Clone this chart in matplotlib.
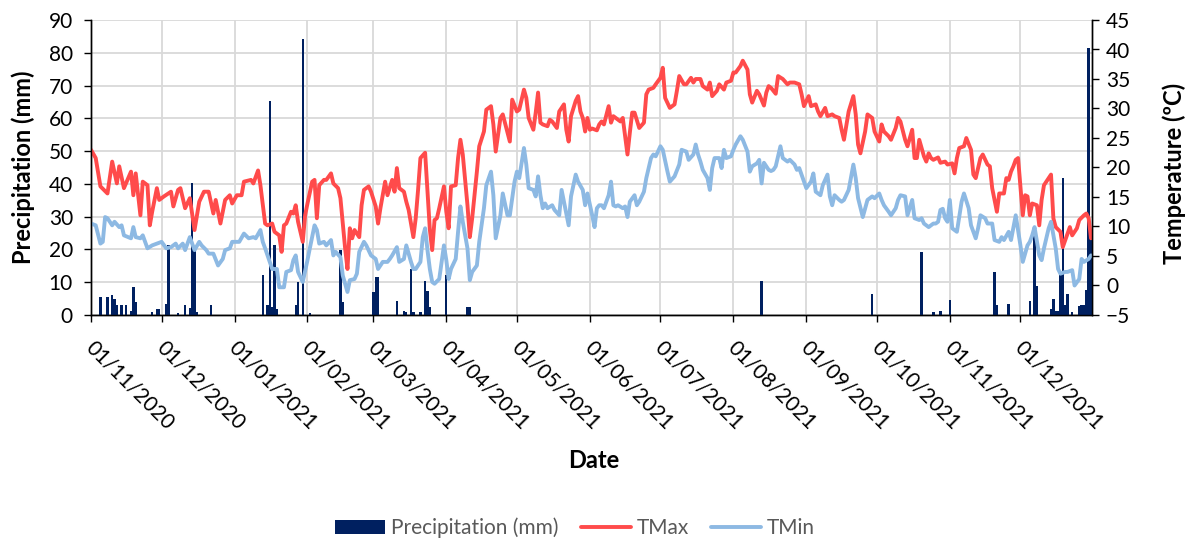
import matplotlib
matplotlib.use("Agg")
import matplotlib.pyplot as plt
import matplotlib.dates as mdates
import matplotlib.transforms as mtransforms
import numpy as np
import pandas as pd

plt.rcParams['font.family'] = ['Lato', 'DejaVu Sans']

start = pd.Timestamp('2020-11-01')

# daily max temperature (day offset from 01/11/2020, degC)
tmax_day = [0, 2, 4, 7, 9, 11, 12, 14, 17, 18, 19, 21, 22, 24, 25, 26, 28, 29, 31, 34,
            35, 37, 38, 40, 42, 44, 46, 48, 50, 52, 53, 55, 57, 59, 60, 62, 64, 65, 68, 69,
            71, 72, 74, 75, 77, 78, 80, 81, 82, 83, 85, 86, 87, 88, 90, 91, 92, 94, 95, 96,
            97, 99, 100, 102, 103, 105, 106, 108, 109, 110, 111, 112, 114, 115, 116, 118, 119, 121, 122, 123,
            125, 126, 128, 129, 130, 131, 133, 134, 135, 137, 138, 139, 140, 142, 143, 144, 145, 146, 147, 148,
            150, 151, 152, 153, 155, 156, 157, 158, 160, 161, 162, 164, 165, 167, 168, 170, 171, 172, 174, 175,
            177, 178, 179, 181, 182, 184, 185, 186, 188, 189, 190, 191, 192, 194, 195, 196, 198, 199, 201, 202,
            203, 204, 206, 207, 208, 209, 210, 211, 212, 213, 215, 216, 217, 218, 220, 221, 222, 223, 225, 226,
            228, 229, 230, 231, 233, 235, 236, 237, 239, 240, 242, 243, 244, 246, 247, 248, 249, 250, 252, 253,
            255, 256, 257, 259, 260, 262, 263, 264, 266, 267, 269, 270, 272, 273, 274, 276, 277, 279, 280, 281,
            283, 284, 286, 287, 288, 289, 291, 292, 294, 296, 297, 299, 301, 302, 303, 305, 306, 308, 309, 310,
            312, 313, 315, 316, 318, 319, 320, 322, 324, 325, 326, 327, 329, 330, 332, 333, 335, 336, 337, 339,
            340, 342, 343, 344, 346, 347, 349, 350, 351, 352, 354, 355, 356, 357, 358, 360, 361, 363, 364, 366,
            367, 368, 369, 371, 372, 374, 375, 376, 378, 379, 381, 382, 383, 385, 386, 388, 389, 390, 391, 392,
            393, 394, 396, 397, 398, 399, 400, 402, 403, 404, 405, 408, 409, 410, 412, 413, 415, 416, 417, 419,
            420, 422, 423, 424, 425]
tmax_val = [23.0, 21.6, 16.8, 15.6, 21.0, 17.3, 20.2, 16.5, 19.3, 15.3, 19.0, 11.9, 17.6, 17.0, 10.2, 12.5, 16.5, 14.5, 15.1, 15.9,
            13.4, 16.2, 16.5, 13.1, 14.8, 9.4, 14.2, 15.9, 15.9, 12.2, 14.5, 10.5, 14.5, 15.3, 13.9, 15.3, 15.3, 17.6, 17.9, 17.3,
            19.5, 17.0, 10.5, 10.2, 10.5, 9.1, 8.5, 5.7, 10.2, 10.5, 12.5, 12.2, 13.6, 10.8, 7.4, 11.9, 13.9, 17.6, 17.9, 11.4,
            17.0, 17.9, 17.9, 19.0, 17.3, 16.5, 14.8, 6.3, 2.8, 9.7, 8.0, 9.4, 8.2, 13.6, 16.2, 16.8, 15.9, 13.4, 10.5, 13.1,
            17.6, 15.3, 17.9, 15.9, 19.9, 16.5, 15.9, 14.2, 12.8, 8.2, 11.4, 16.2, 21.6, 22.5, 16.0, 9.5, 6.0, 11.1, 11.4, 13.1,
            16.8, 12.5, 9.7, 16.8, 17.0, 21.6, 24.7, 22.2, 13.6, 8.2, 11.4, 19.3, 23.6, 26.1, 29.8, 30.4, 27.3, 22.7, 28.4, 29.0,
            25.9, 24.4, 31.5, 29.5, 29.8, 33.2, 31.8, 28.4, 26.4, 29.3, 32.7, 27.6, 27.3, 27.0, 28.1, 27.8, 26.7, 29.5, 30.7, 26.4,
            24.4, 28.7, 31.3, 32.1, 29.5, 28.4, 26.1, 28.4, 26.4, 26.6, 26.3, 27.3, 27.8, 27.3, 30.4, 27.6, 28.7, 28.4, 27.8, 28.4,
            22.2, 25.9, 29.3, 29.3, 26.7, 27.6, 32.4, 33.2, 33.5, 34.1, 35.2, 36.9, 31.8, 30.1, 30.4, 30.7, 33.0, 35.5, 34.1, 34.1,
            35.2, 34.4, 35.0, 35.0, 33.8, 33.2, 34.4, 32.1, 33.0, 34.1, 33.2, 34.4, 34.7, 36.1, 36.1, 37.2, 38.1, 36.6, 32.4, 31.0,
            33.0, 32.4, 30.5, 32.7, 33.8, 33.5, 32.5, 35.5, 35.0, 34.1, 34.4, 34.4, 34.1, 32.4, 30.4, 32.1, 30.4, 30.7, 29.5, 28.7,
            30.1, 28.7, 29.0, 28.7, 28.4, 26.4, 24.7, 29.5, 32.1, 29.0, 23.9, 22.4, 26.1, 29.0, 28.4, 26.1, 24.4, 27.3, 26.1, 25.3,
            24.7, 26.7, 28.4, 27.8, 24.7, 23.6, 26.4, 21.6, 21.6, 24.7, 21.9, 21.0, 22.4, 21.6, 21.3, 21.7, 20.8, 21.0, 20.5, 20.7,
            19.0, 21.6, 23.3, 23.6, 25.0, 23.0, 18.8, 18.2, 21.6, 22.2, 20.5, 20.2, 16.5, 12.5, 15.6, 15.6, 18.2, 17.9, 19.3, 20.2,
            21.3, 21.6, 11.9, 15.3, 15.1, 11.9, 13.9, 13.6, 10.2, 14.5, 17.0, 18.8, 11.4, 9.9, 9.1, 6.5, 8.8, 9.9, 8.5, 9.7,
            11.1, 11.9, 12.2, 11.4, 8.0]

# daily min temperature
tmin_day = [0, 2, 4, 5, 6, 7, 9, 10, 12, 13, 14, 17, 18, 19, 21, 22, 24, 26, 28, 30,
            32, 34, 36, 37, 39, 40, 42, 44, 46, 47, 49, 50, 52, 54, 56, 57, 59, 60, 63, 65,
            67, 69, 70, 72, 73, 74, 76, 77, 79, 80, 82, 83, 85, 86, 87, 88, 90, 92, 93, 95,
            96, 97, 99, 100, 102, 103, 104, 106, 107, 109, 110, 112, 113, 114, 116, 117, 119, 121, 122, 124,
            126, 127, 128, 130, 131, 133, 134, 136, 137, 138, 140, 141, 142, 143, 144, 145, 146, 148, 149, 150,
            151, 152, 153, 155, 156, 157, 158, 160, 161, 162, 164, 165, 167, 168, 170, 171, 172, 174, 175, 177,
            178, 180, 181, 182, 184, 185, 186, 188, 189, 190, 191, 192, 193, 194, 196, 197, 199, 200, 201, 203,
            204, 206, 207, 209, 210, 211, 213, 214, 215, 216, 217, 218, 220, 221, 222, 223, 224, 226, 227, 228,
            229, 231, 232, 233, 235, 236, 238, 239, 240, 242, 243, 245, 246, 248, 250, 251, 253, 254, 256, 257,
            258, 259, 260, 262, 263, 264, 265, 267, 268, 269, 270, 272, 273, 274, 276, 277, 279, 280, 281, 283,
            284, 285, 286, 288, 289, 290, 291, 293, 294, 296, 297, 299, 300, 301, 303, 304, 306, 307, 308, 310,
            311, 313, 314, 315, 316, 318, 319, 320, 322, 324, 325, 326, 328, 330, 332, 333, 335, 336, 337, 339,
            340, 342, 343, 344, 346, 347, 349, 350, 352, 353, 354, 356, 358, 359, 360, 361, 362, 363, 364, 365,
            366, 368, 369, 370, 371, 373, 374, 376, 377, 378, 380, 381, 383, 384, 386, 387, 388, 390, 391, 393,
            395, 396, 398, 399, 400, 401, 403, 404, 405, 407, 408, 410, 411, 412, 414, 415, 417, 418, 420, 421,
            422, 424, 425]
tmin_val = [10.5, 10.2, 7.1, 7.4, 11.6, 11.4, 10.2, 10.8, 9.9, 10.2, 8.5, 8.0, 9.9, 8.2, 8.0, 8.5, 6.3, 6.8, 7.1, 7.4,
            6.3, 6.5, 7.1, 6.3, 7.1, 6.0, 8.2, 6.0, 7.4, 6.8, 6.0, 5.4, 5.4, 3.4, 4.5, 6.0, 6.3, 7.4, 7.4, 8.8,
            8.0, 8.2, 8.0, 9.4, 7.4, 6.3, 4.0, 2.8, 2.8, -0.3, -0.3, 2.3, 2.6, 4.3, 5.1, 2.3, 0.6, 4.3, 6.3, 10.2,
            9.4, 7.1, 7.4, 6.8, 7.7, 5.1, 5.7, 4.8, 1.7, -1.1, 0.9, 1.1, 2.0, 5.7, 7.4, 6.8, 5.1, 4.5, 2.8, 4.0,
            4.0, 4.5, 5.1, 6.5, 4.0, 4.5, 6.8, 4.0, 2.8, 2.8, 4.0, 8.2, 9.7, 6.0, 2.8, 0.6, 0.3, 1.1, 4.0, 6.8,
            4.3, 1.1, 2.8, 4.5, 9.1, 13.4, 10.8, 6.3, 0.9, 2.3, 3.4, 7.4, 13.1, 17.0, 19.3, 15.3, 8.0, 11.9, 15.6, 11.9,
            11.9, 17.6, 19.3, 18.2, 23.3, 20.5, 16.5, 16.2, 15.1, 18.5, 15.3, 13.1, 13.9, 13.1, 13.6, 12.8, 11.9, 16.2, 14.2, 10.2,
            15.1, 18.8, 17.6, 16.2, 13.6, 15.6, 11.9, 9.9, 13.1, 13.6, 13.6, 13.1, 15.3, 17.6, 13.6, 13.4, 13.6, 13.1, 13.4, 11.6,
            14.2, 15.3, 13.6, 14.2, 15.9, 18.2, 21.6, 22.2, 21.9, 23.6, 23.0, 19.3, 17.6, 18.5, 20.5, 23.0, 22.7, 21.3, 22.2, 23.9,
            22.2, 21.0, 19.6, 18.2, 16.2, 19.9, 21.6, 21.6, 19.9, 23.0, 21.6, 21.9, 23.0, 23.9, 25.3, 24.7, 22.7, 19.3, 20.2, 20.7,
            21.3, 17.3, 20.8, 19.6, 19.4, 19.6, 20.2, 23.6, 21.6, 21.0, 21.3, 20.5, 19.6, 19.9, 17.6, 16.5, 17.6, 19.0, 15.9, 15.3,
            17.0, 18.8, 15.1, 13.6, 15.3, 14.5, 14.2, 14.5, 16.2, 20.5, 18.2, 14.8, 11.6, 14.5, 15.1, 14.8, 15.6, 14.5, 13.6, 12.5,
            11.9, 13.1, 14.5, 15.3, 15.1, 11.9, 14.5, 11.4, 11.1, 11.4, 10.5, 9.9, 10.5, 10.5, 10.8, 12.8, 13.0, 11.4, 10.8, 14.5,
            9.7, 9.1, 11.6, 14.2, 15.6, 13.1, 10.2, 8.0, 9.7, 11.9, 11.4, 10.5, 10.5, 7.7, 7.4, 8.2, 7.7, 9.1, 7.7, 11.9,
            6.8, 4.0, 6.8, 7.4, 8.5, 9.9, 5.1, 4.3, 6.3, 9.7, 10.8, 6.3, 2.8, 2.0, 2.3, 2.3, 2.6, 0.0, 1.1, 4.5,
            4.0, 4.5, 5.1]

# daily precipitation (mm), only rainy days
rain_day = [4, 7, 9, 10, 11, 13, 15, 17, 18, 19, 26, 28, 29, 32, 33, 37, 40, 42, 43, 44,
            45, 51, 73, 75, 76, 77, 78, 79, 87, 88, 90, 93, 106, 107, 120, 121, 122, 130, 133, 134,
            136, 137, 140, 142, 143, 144, 151, 160, 161, 285, 332, 353, 358, 361, 365, 384, 385, 390, 399, 401,
            402, 408, 409, 410, 411, 412, 413, 414, 415, 417, 420, 421, 422, 423, 424, 425]
rain_val = [5.4, 5.4, 6.1, 4.9, 2.9, 3.1, 3.1, 1.3, 8.5, 3.9, 0.8, 1.8, 1.8, 3.4, 21.3, 0.5, 3.1, 2.0, 40.2, 21.0,
            1.0, 2.9, 12.3, 2.9, 65.2, 2.4, 21.3, 1.8, 2.9, 10.0, 84.2, 0.5, 19.7, 3.9, 7.0, 11.6, 11.6, 4.4, 1.3, 0.8,
            14.1, 0.8, 0.8, 10.5, 7.2, 2.4, 12.3, 2.4, 2.4, 10.5, 6.4, 19.2, 0.8, 1.3, 4.6, 13.1, 2.9, 3.4, 4.4, 26.4,
            9.0, 1.8, 4.9, 1.3, 1.3, 12.1, 41.7, 2.9, 6.4, 1.0, 2.7, 2.9, 2.9, 7.5, 81.6, 22.8]

tmax_dates = start + pd.to_timedelta(tmax_day, unit='D')
tmin_dates = start + pd.to_timedelta(tmin_day, unit='D')
rain_dates = start + pd.to_timedelta(rain_day, unit='D')

fig = plt.figure(figsize=(11.85, 5.39), dpi=100)
ax = fig.add_axes([91/1185, 1 - 315/539, 1001/1185, 295/539])
ax2 = ax.twinx()

ax.bar(rain_dates, rain_val, width=1.0, color='#002060', label='Precipitation (mm)', zorder=3)
ax2.plot(tmax_dates, tmax_val, color='#FF4B4B', lw=2.8, label='TMax', solid_capstyle='round')
ax2.plot(tmin_dates, tmin_val, color='#8DB9E3', lw=2.8, label='TMin', solid_capstyle='round')

ax.set_xlim(start, pd.Timestamp('2021-12-31 10:00'))
ax.set_ylim(0, 90)
ax.set_yticks(np.arange(0, 91, 10))
ax2.set_ylim(-5, 45)
ax2.set_yticks(np.arange(-5, 46, 5))

ax.xaxis.set_major_locator(mdates.MonthLocator())
ax.xaxis.set_major_formatter(mdates.DateFormatter('%d/%m/%Y'))

ax.grid(True, color='#D9D9D9', lw=1.3, zorder=0)
ax.set_axisbelow(True)

for a in (ax, ax2):
    for s in a.spines.values():
        s.set_color('black')
        s.set_linewidth(1.0)
    a.spines['top'].set_visible(False)
    a.tick_params(labelsize=15, length=5, width=1.0, colors='black')
ax.tick_params(axis='y', pad=8)
ax2.tick_params(axis='y', pad=5)
ax.tick_params(axis='x', pad=11)

offset = mtransforms.ScaledTranslation(5/100, 0, fig.dpi_scale_trans)
for lab in ax.get_xticklabels():
    lab.set_rotation(-45)
    lab.set_ha('left')
    lab.set_va('top')
    lab.set_rotation_mode('anchor')
    lab.set_transform(lab.get_transform() + offset)

ax.set_ylabel('Precipitation (mm)', fontsize=17, fontweight='bold')
ax.yaxis.set_label_coords(-0.056, 0.5)
ax2.set_ylabel('Temperature (ºC)', fontsize=17, fontweight='bold')
ax2.yaxis.set_label_coords(1.07, 0.48)
ax.set_xlabel('Date', fontsize=17, fontweight='bold')
ax.xaxis.set_label_coords(0.502, -0.455)

h1, l1 = ax.get_legend_handles_labels()
h2, l2 = ax2.get_legend_handles_labels()
leg = fig.legend(h1 + h2, l1 + l2, loc='center', bbox_to_anchor=(575/1185, 1 - 528/539),
                 ncol=3, frameon=False, fontsize=15, handlelength=2.4, handleheight=0.6,
                 handletextpad=0.3, columnspacing=1.05, labelcolor='#595959')

fig.savefig('out.png', dpi=100)
